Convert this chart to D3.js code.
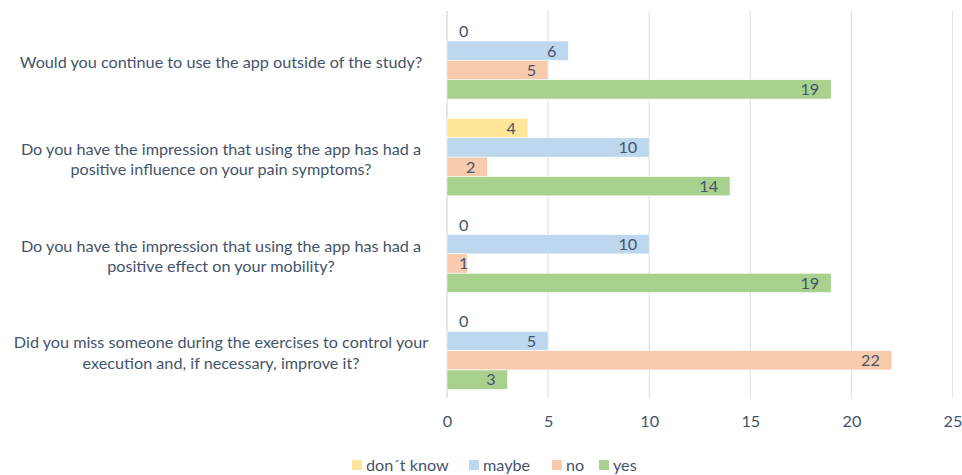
<!DOCTYPE html>
<html>
<head>
<meta charset="utf-8">
<script src="https://cdn.jsdelivr.net/npm/d3@7"></script>
<style>
  html, body { margin: 0; padding: 0; background: #fff; }
  svg { display: block; }
  text { font-family: Lato, "Open Sans", sans-serif; fill: #44546a; }
</style>
</head>
<body>
<svg id="chart" width="962" height="475"></svg>
<script>
const questions = [
  ["Would you continue to use the app outside of the study?"],
  ["Do you have the impression that using the app has had a", "positive influence on your pain symptoms?"],
  ["Do you have the impression that using the app has had a", "positive effect on your mobility?"],
  ["Did you miss someone during the exercises to control your", "execution and, if necessary, improve it?"]
];
const seriesNames = ["don\u00b4t know", "maybe", "no", "yes"];
const dontKnow = [0, 4, 0, 0];
const maybe = [6, 10, 10, 5];
const no = [5, 2, 1, 22];
const yes = [19, 14, 19, 3];
const xTicks = [0, 5, 10, 15, 20, 25];
const colors = ["#ffe699", "#bdd7ee", "#f8cbad", "#a9d18e"];

const FS = 16.2;
const seriesValues = [dontKnow, maybe, no, yes];
const qIdx = questions.map((d, i) => i);

const svg = d3.select("#chart");
const x = d3.scaleLinear().domain([0, 25]).range([447, 952.5]);
const y0 = d3.scaleBand().domain(qIdx).range([12, 399]).paddingInner(0.2).paddingOuter(0.1);
const y1 = d3.scaleBand().domain(d3.range(seriesNames.length)).range([0, y0.bandwidth()]);

// gridlines
svg.append("g").selectAll("line").data(xTicks).join("line")
  .attr("x1", d => x(d)).attr("x2", d => x(d))
  .attr("y1", 11).attr("y2", 398)
  .attr("stroke", d => d === 0 ? "#d0d7e0" : "#dfe4ea").attr("stroke-width", 1.2);

// x axis tick labels
const xAxis = d3.axisBottom(x).tickValues(xTicks).tickSize(0).tickPadding(0);
const gx = svg.append("g").attr("transform", "translate(0,415)").call(xAxis);
gx.select(".domain").remove();
gx.selectAll("text").attr("font-size", FS).attr("dy", "0.71em")
  .style("font-family", "Lato, 'Open Sans', sans-serif").attr("fill", "#44546a");

// bars
const groups = svg.append("g").selectAll("g").data(qIdx).join("g")
  .attr("transform", d => `translate(0,${y0(d)})`);

groups.each(function(qi) {
  const g = d3.select(this);
  const rows = seriesValues.map((vals, si) => ({ si, v: vals[qi] }));
  g.selectAll("rect").data(rows).join("rect")
    .attr("x", x(0))
    .attr("y", d => y1(d.si))
    .attr("width", d => x(d.v) - x(0))
    .attr("height", y1.bandwidth())
    .attr("fill", d => colors[d.si])
    .attr("stroke", "#ffffff").attr("stroke-width", 0.6);
  const labels = g.selectAll("text.val").data(rows).join("text")
    .attr("class", "val")
    .attr("y", d => y1(d.si) + y1.bandwidth() / 2)
    .attr("dy", "0.36em")
    .attr("font-size", FS)
    .attr("text-anchor", "middle")
    .text(d => d.v);
  labels.each(function(d) {
    const w = this.getComputedTextLength() + 24;
    const right = Math.max(x(d.v), x(0) + w);
    d3.select(this).attr("x", right - w / 2);
  });
});

// category labels
const cat = svg.append("g").selectAll("text").data(qIdx).join("text")
  .attr("text-anchor", "middle")
  .attr("font-size", FS)
  .attr("x", 221)
  .attr("y", d => y0(d) + y0.bandwidth() / 2 + 2);
cat.each(function(qi) {
  const lines = questions[qi];
  const t = d3.select(this);
  lines.forEach((ln, k) => {
    t.append("tspan").attr("x", 221)
      .attr("dy", k === 0 ? `${0.36 - (lines.length - 1) * 0.62}em` : "1.24em")
      .text(ln);
  });
});

// legend
const legendX = [352, 469, 552, 599];
const leg = svg.append("g").selectAll("g").data(seriesNames).join("g")
  .attr("transform", (d, i) => `translate(${legendX[i]},465)`);
leg.append("rect").attr("x", 0).attr("y", -5).attr("width", 10).attr("height", 10)
  .attr("fill", (d, i) => colors[i]);
leg.append("text").attr("x", 14).attr("dy", "0.36em").attr("font-size", FS).text(d => d);
</script>
</body>
</html>
